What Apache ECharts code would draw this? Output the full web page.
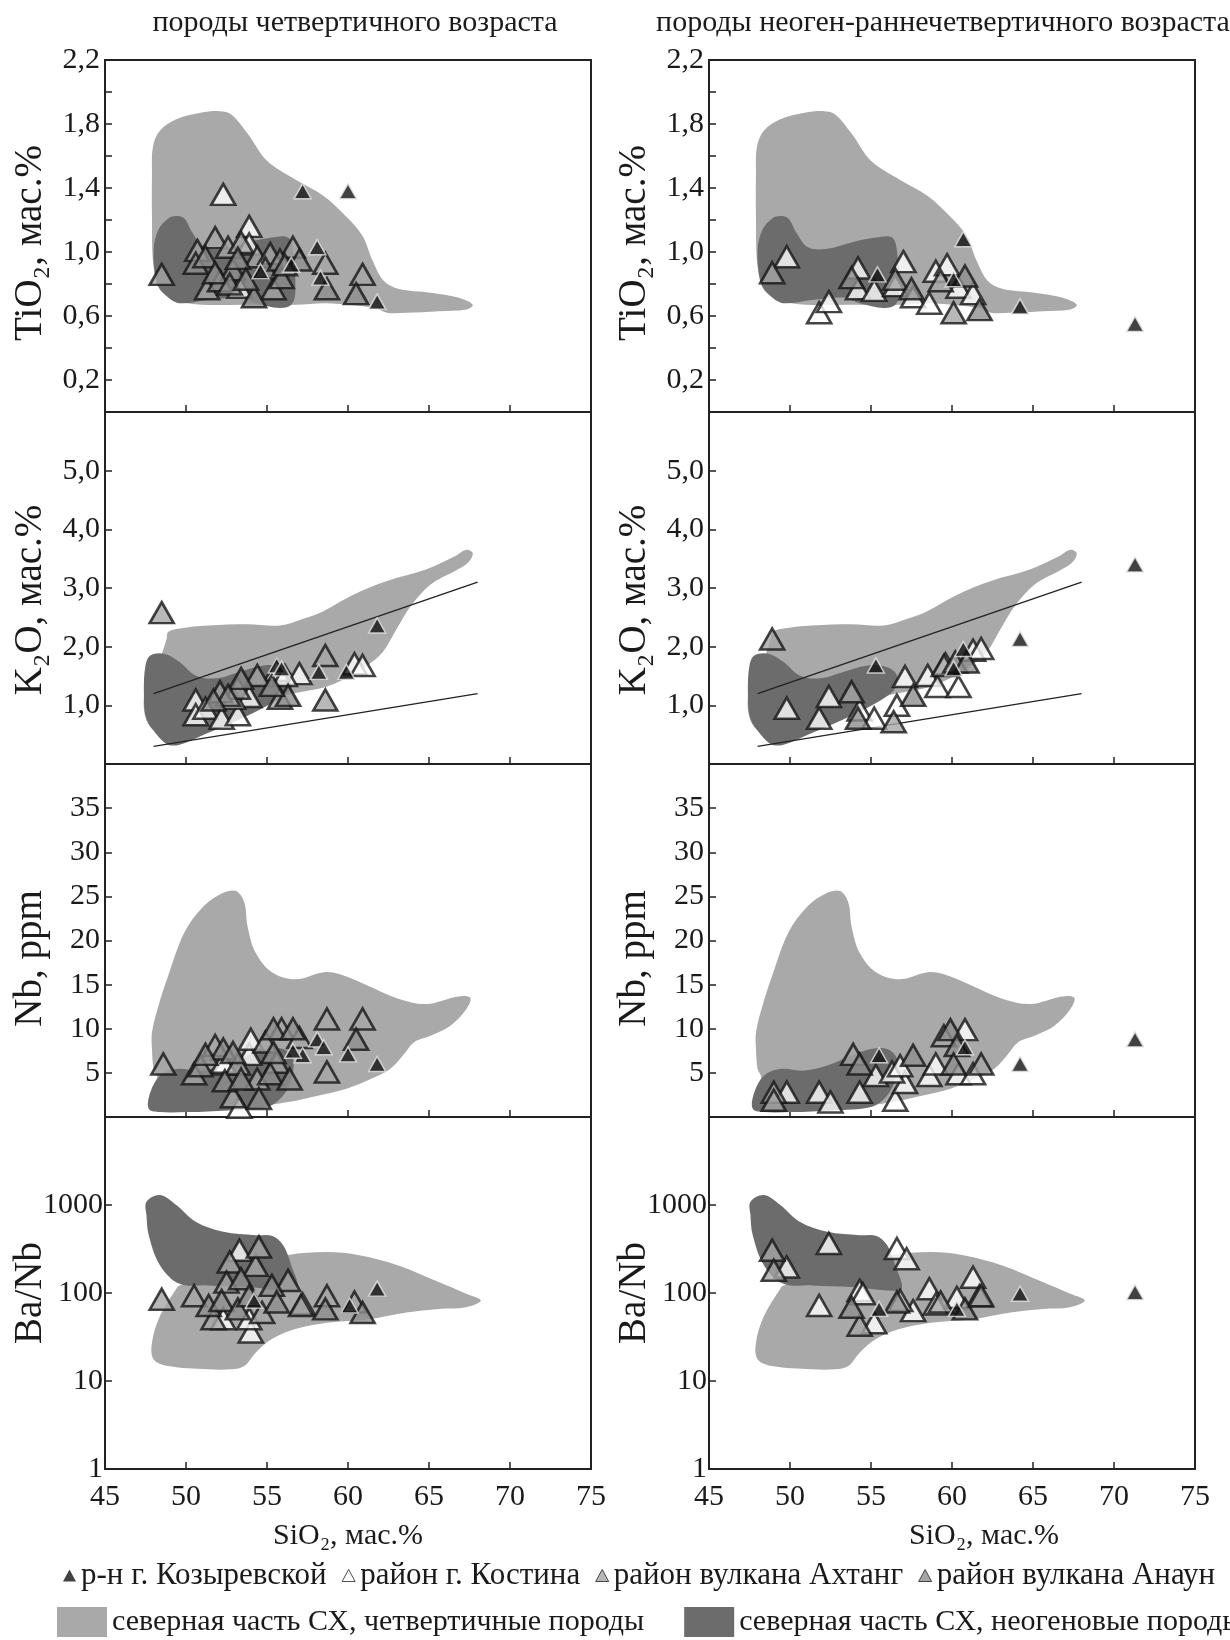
<!DOCTYPE html>
<html>
<head>
<meta charset="utf-8">
<script src="https://cdn.jsdelivr.net/npm/echarts@6/dist/echarts.min.js"></script>
<style>
  html, body { margin: 0; background: #fff; }
  #chart { width: 1230px; height: 1640px; }
</style>
</head>
<body>
<div id="chart"></div>
<script>
// --- данные: SiO2 (x) против TiO2, K2O, Nb, Ba/Nb ---
// q = породы четвертичного возраста, n = неоген-раннечетвертичные
// koz = р-н г. Козыревской, kos = район г. Костина, akh = Ахтанг, ana = Анаун

const tiKozQ = [[57.2, 1.38], [60.0, 1.38], [58.1, 1.03], [58.3, 0.84], [61.8, 0.69], [54.6, 0.88], [56.5, 0.92]]
const tiKosQ = [[52.3, 1.36], [53.9, 1.16], [53.9, 1.05], [53.3, 0.78]]
const tiAkhQ = [[48.5, 0.86], [50.7, 1.01], [51.8, 1.09], [52.6, 1.03], [53.4, 1.06], [54.4, 0.97], [55.2, 0.99], [56.6, 1.03], [58.6, 0.93], [60.9, 0.86], [51.3, 0.77], [55.4, 0.77]]
const tiAnaQ = [[50.6, 0.93], [51.2, 0.97], [52.1, 0.82], [52.9, 0.89], [54.2, 0.72], [54.9, 0.9], [55.8, 0.95], [55.9, 0.84], [57.0, 0.95], [58.7, 0.77], [60.5, 0.74], [51.8, 0.87], [53.2, 0.96], [52.7, 0.8], [56.1, 0.92], [53.7, 0.83]]

const tiKozN = [[60.7, 1.08], [64.2, 0.66], [71.3, 0.55], [55.4, 0.86], [60.1, 0.83]]
const tiKosN = [[49.8, 0.97], [51.8, 0.62], [52.4, 0.69], [54.2, 0.9], [54.2, 0.77], [55.2, 0.76], [57.0, 0.94], [56.5, 0.79], [57.6, 0.72], [58.6, 0.68], [59.0, 0.88], [60.4, 0.78], [61.3, 0.74], [59.7, 0.92]]
const tiAkhN = [[48.9, 0.87], [56.5, 0.83], [59.3, 0.82], [60.1, 0.62]]
const tiAnaN = [[57.5, 0.77], [60.8, 0.85], [61.7, 0.64], [53.8, 0.84]]

const kKozQ = [[61.8, 2.36], [58.2, 1.57], [59.9, 1.57], [55.6, 1.68], [55.9, 1.63]]
const kKosQ = [[50.6, 1.09], [50.6, 0.84], [51.2, 0.95], [52.2, 0.78], [53.2, 0.84], [53.9, 1.15], [57.0, 1.54], [60.4, 1.71], [60.9, 1.68], [55.6, 1.6], [56.1, 1.51], [52.9, 1.12]]
const kAkhQ = [[48.5, 2.58], [58.6, 1.09], [58.6, 1.85], [55.8, 1.12], [54.4, 1.51], [53.2, 1.29], [52.1, 1.23]]
const kAnaQ = [[56.3, 1.17], [53.4, 1.46], [55.3, 1.34], [52.6, 1.17], [51.7, 1.09]]

const kKozN = [[55.3, 1.68], [64.2, 2.13], [71.3, 3.4], [60.7, 1.96], [60.1, 1.63]]
const kKosN = [[49.8, 0.95], [51.8, 0.78], [52.4, 1.15], [54.3, 0.92], [55.2, 0.78], [56.6, 1.0], [57.1, 1.49], [58.5, 1.51], [59.1, 1.32], [60.4, 1.32], [61.3, 1.94], [61.8, 1.97], [59.6, 1.71]]
const kAkhN = [[48.9, 2.13], [53.8, 1.23], [56.4, 0.72], [59.5, 1.68]]
const kAnaN = [[57.6, 1.17], [60.2, 1.74], [60.9, 1.74], [54.2, 0.78]]

const nbKozQ = [[58.1, 8.8], [58.5, 7.9], [60.0, 7.1], [61.8, 6.0], [57.2, 7.0], [56.6, 7.5]]
const nbKosQ = [[52.4, 6.0], [53.9, 7.1], [54.0, 8.8], [53.3, 1.1], [52.3, 6.2]]
const nbAkhQ = [[48.6, 6.0], [50.5, 4.9], [51.8, 8.1], [53.2, 6.0], [52.9, 2.3], [54.4, 4.3], [55.6, 6.2], [55.9, 10], [57.0, 9.0], [58.7, 11.1], [60.9, 11.1], [58.7, 5.1], [54.9, 8.5]]
const nbAnaQ = [[50.9, 5.8], [52.3, 7.7], [52.9, 7.3], [52.4, 4.1], [53.4, 4.3], [54.5, 2.1], [55.2, 4.9], [55.4, 10], [56.6, 10], [56.4, 4.3], [60.5, 8.8], [55.4, 7.3], [51.2, 7.1]]

const nbKozN = [[55.5, 7.0], [60.8, 7.9], [64.2, 6.0], [71.3, 8.8]]
const nbKosN = [[49.8, 2.8], [51.8, 2.8], [52.5, 1.7], [54.3, 2.8], [55.3, 4.7], [56.5, 1.9], [57.1, 3.9], [58.6, 4.7], [59.0, 6.0], [60.4, 4.9], [61.3, 4.9], [60.8, 9.9], [56.3, 5.1], [56.8, 5.8]]
const nbAkhN = [[49.0, 2.8], [49.0, 1.9], [53.9, 7.1], [59.5, 9.2], [61.8, 6.0]]
const nbAnaN = [[54.3, 6.0], [57.6, 7.0], [59.9, 9.9], [60.3, 8.1], [60.1, 6.0]]

const baKozQ = [[61.8, 112], [60.1, 72], [54.2, 82]]
const baKosQ = [[53.3, 306], [52.3, 51], [54.0, 36], [53.9, 51], [57.2, 75]]
const baAkhQ = [[48.5, 85], [50.5, 93], [52.7, 225], [54.3, 206], [54.5, 334], [56.3, 139], [58.7, 93], [60.4, 79], [51.7, 51], [54.7, 60], [52.5, 133]]
const baAnaQ = [[51.4, 72], [52.2, 82], [53.4, 145], [55.3, 122], [57.1, 72], [58.6, 66], [60.9, 60], [53.2, 66], [55.6, 79], [53.9, 93]]

const baKozN = [[64.2, 98], [71.3, 102], [55.5, 66], [60.3, 66]]
const baKosN = [[49.8, 197], [52.4, 365], [51.8, 72], [54.3, 107], [54.5, 98], [55.2, 46], [56.6, 320], [57.2, 245], [57.6, 63], [58.6, 112], [59.0, 75], [60.3, 89], [61.3, 151], [61.7, 93], [56.8, 82]]
const baAkhN = [[48.9, 306], [49.0, 181], [54.3, 43], [59.3, 79]]
const baAnaN = [[53.8, 69], [56.6, 79], [60.8, 66], [61.8, 93]]

// поля составов (контуры)
const tiLight = [[47.9, 1.49], [47.96, 1.66], [48.4, 1.76], [49.4, 1.83], [50.9, 1.87], [52.1, 1.88], [52.8, 1.86], [53.8, 1.74], [55.0, 1.57], [56.8, 1.45], [58.5, 1.35], [59.9, 1.22], [60.9, 1.10], [61.5, 0.95], [62.2, 0.82], [63.1, 0.77], [65.1, 0.745], [66.8, 0.715], [67.7, 0.67], [67.3, 0.64], [65.6, 0.63], [63.6, 0.62], [62.4, 0.62], [61.7, 0.65], [58.7, 0.68], [56.8, 0.67], [53.8, 0.67], [50.1, 0.68], [48.5, 0.75], [48.0, 0.91], [47.9, 1.22]]
const tiDark = [[49.4, 1.225], [48.9, 1.21], [48.3, 1.14], [48.0, 1.01], [48.2, 0.81], [48.8, 0.725], [49.6, 0.68], [51.35, 0.70], [53.3, 0.715], [54.3, 0.68], [55.8, 0.65], [56.5, 0.67], [56.75, 0.745], [56.6, 1.01], [56.3, 1.09], [55.3, 1.09], [53.8, 1.06], [52.3, 1.02], [51.1, 1.03], [50.4, 1.12], [49.9, 1.21]]
const kLight = [[48.9, 2.25], [49.6, 2.31], [51.35, 2.36], [53.8, 2.38], [55.8, 2.36], [57.2, 2.47], [58.5, 2.61], [60.2, 2.87], [62.4, 3.12], [64.85, 3.32], [66.6, 3.54], [67.3, 3.65], [67.7, 3.59], [67.4, 3.43], [66.6, 3.29], [65.1, 3.06], [63.9, 2.70], [63.0, 2.30], [62.15, 1.91], [61.2, 1.68], [60.2, 1.51], [58.7, 1.32], [57.2, 1.23], [55.8, 1.15], [53.8, 0.95], [51.35, 0.72], [49.4, 0.55], [48.2, 0.55], [47.55, 0.75], [47.4, 1.12], [47.8, 1.46], [48.4, 1.8], [48.8, 2.13]]
const kDark = [[47.8, 1.85], [48.65, 1.88], [49.6, 1.74], [50.6, 1.51], [51.85, 1.46], [53.3, 1.57], [54.8, 1.68], [56.0, 1.65], [56.6, 1.51], [56.5, 1.29], [55.8, 1.12], [54.3, 0.89], [52.8, 0.70], [51.1, 0.50], [49.6, 0.33], [48.9, 0.33], [48.2, 0.50], [47.55, 0.78], [47.4, 1.23], [47.5, 1.68]]
const nbLight = [[47.9, 7.7], [47.9, 9.6], [48.3, 12.6], [48.9, 16.0], [49.9, 20.9], [51.1, 23.9], [52.3, 25.4], [53.1, 25.6], [53.6, 24.3], [53.8, 21.6], [54.3, 18.6], [55.3, 16.4], [56.75, 15.6], [58.5, 16.4], [59.45, 16.2], [61.2, 14.9], [63.1, 13.4], [64.85, 12.8], [66.8, 13.65], [67.55, 13.5], [67.3, 12.2], [66.3, 10.3], [65.1, 9.2], [64.1, 8.5], [63.4, 7.0], [62.6, 5.45], [61.4, 4.3], [59.9, 3.2], [58.2, 2.44], [56.3, 1.69], [53.8, 1.12], [50.1, 0.94], [49.4, 1.12], [48.4, 2.8], [48.2, 4.7], [48.0, 5.45]]
const nbDark = [[47.7, 0.94], [47.8, 2.8], [48.4, 4.7], [49.4, 5.45], [50.9, 5.26], [52.3, 5.83], [53.8, 6.96], [55.0, 7.7], [56.0, 7.7], [56.6, 6.6], [56.5, 4.3], [56.0, 2.44], [55.0, 1.12], [52.6, 0.75], [50.1, 0.56], [48.4, 0.56]]
const baLight = [[49.6, 122], [51.5, 150], [53.8, 200], [56.3, 270], [58.7, 293], [60.7, 269], [63.1, 206], [65.6, 133], [67.3, 98], [68.2, 82], [67.3, 69], [65.6, 66], [63.6, 60], [61.2, 50], [58.7, 46], [56.75, 39], [55.3, 30], [54.3, 21], [53.6, 14.8], [52.8, 13.6], [51.35, 13.6], [48.9, 14.8], [48.0, 17.7], [47.9, 27.4], [48.4, 55], [49.4, 112]]
const baDark = [[47.56, 1092], [48.4, 1300], [49.4, 1000], [50.6, 645], [52.3, 495], [54.3, 454], [55.3, 447], [56.0, 349], [56.5, 206], [56.9, 112], [56.0, 107], [53.8, 117], [51.35, 122], [49.6, 127], [48.4, 206], [47.7, 454], [47.56, 770]]

// линии на диаграмме K2O-SiO2
const kLineHigh = [[48, 1.2], [68, 3.1]]
const kLineLow = [[48, 0.3], [68, 1.2]]

const titles = ['породы четвертичного возраста', 'породы неоген-раннечетвертичного возраста']
const names = {
  koz: 'р-н г. Козыревской',
  kos: 'район г. Костина',
  akh: 'район вулкана Ахтанг',
  ana: 'район вулкана Анаун',
  light: 'северная часть СХ, четвертичные породы',
  dark: 'северная часть СХ, неогеновые породы'
}

const FONT = 'Liberation Serif'
const INK = '#1a1a1a'
const FS = 30
const LIGHT = '#a9a9a9'
const DARK = '#6c6c6c'

const colLeft = [105, 709]
const colW = 486
const rowTop = [60, 412, 764, 1117]
const rowH = [352, 352, 353, 352]

const comma = (v, d) => v.toFixed(d).replace('.', ',')

const panels = [
  {
    name: 'TiO₂, мас.%', type: 'value', min: 0, max: 2.2, interval: 0.2, shift: 14, margin: 5,
    fmt: v => (Math.round(v * 10) % 4 === 2 ? comma(v, 1) : ''),
    light: tiLight, dark: tiDark,
    pts: [[tiKozQ, tiKosQ, tiAkhQ, tiAnaQ], [tiKozN, tiKosN, tiAkhN, tiAnaN]]
  },
  {
    name: 'K₂O, мас.%', type: 'value', min: 0, max: 6, interval: 1, shift: 24, margin: 5,
    fmt: v => (v > 0 && v < 6 ? comma(v, 1) : ''),
    light: kLight, dark: kDark, lines: [kLineHigh, kLineLow],
    pts: [[kKozQ, kKosQ, kAkhQ, kAnaQ], [kKozN, kKosN, kAkhN, kAnaN]]
  },
  {
    name: 'Nb, ppm', type: 'value', min: 0, max: 40, interval: 5, shift: 36, margin: 5,
    fmt: v => (v > 0 && v < 40 ? String(v) : ''),
    light: nbLight, dark: nbDark,
    pts: [[nbKozQ, nbKosQ, nbAkhQ, nbAnaQ], [nbKozN, nbKosN, nbAkhN, nbAnaN]]
  },
  {
    name: 'Ba/Nb', type: 'log', min: 1, max: 10000, shift: 0, margin: 2,
    fmt: v => (v < 10000 ? String(Math.round(v)) : ''),
    light: baLight, dark: baDark,
    pts: [[baKozQ, baKosQ, baAkhQ, baAnaQ], [baKozN, baKosN, baAkhN, baAnaN]]
  }
]

const markStyles = [
  { key: 'koz', size: [17, 15], z: 6, item: { color: '#111', borderColor: '#e6e6e6', borderWidth: 1.5 } },
  { key: 'kos', size: [24, 21], z: 5, item: { color: '#fff', borderColor: '#151515', borderWidth: 2.6 } },
  { key: 'akh', size: [24, 21], z: 5, item: { color: '#a6a6a6', borderColor: '#151515', borderWidth: 2.6 } },
  { key: 'ana', size: [24, 21], z: 5, item: { color: '#8e8e8e', borderColor: '#151515', borderWidth: 2.6 } }
]

function field (name, poly, gi, color, z) {
  return {
    type: 'custom',
    name,
    coordinateSystem: 'cartesian2d',
    xAxisIndex: gi,
    yAxisIndex: gi,
    data: poly,
    z,
    silent: true,
    itemStyle: { color },
    renderItem: (params, api) => {
      if (params.dataIndex !== 0) return null
      return {
        type: 'polygon',
        shape: { points: poly.map(p => api.coord(p)), smooth: 0.35 },
        style: { fill: color }
      }
    }
  }
}

const grid = []
const xAxis = []
const yAxis = []
const series = []

panels.forEach((p, r) => {
  for (let c = 0; c < 2; c++) {
    const gi = grid.length
    const bottomRow = r === panels.length - 1
    grid.push({
      left: colLeft[c], top: rowTop[r], width: colW, height: rowH[r],
      show: true, borderColor: '#222', borderWidth: 2, backgroundColor: 'transparent'
    })
    xAxis.push({
      gridIndex: gi, type: 'value', min: 45, max: 75, interval: 5,
      axisLine: { show: false },
      axisTick: { show: true, inside: true, length: 7, lineStyle: { color: '#222', width: 1.5 } },
      splitLine: { show: false },
      axisLabel: { show: bottomRow, margin: 13, fontFamily: FONT, fontSize: FS, color: INK },
      name: bottomRow ? 'SiO₂, мас.%' : '',
      nameLocation: 'middle',
      nameGap: 52,
      nameMoveOverlap: false,
      nameTextStyle: { fontFamily: FONT, fontSize: FS, color: INK, padding: c === 1 ? [0, 0, 0, 64] : [0, 0, 0, 0] }
    })
    const ya = {
      gridIndex: gi, type: p.type, min: p.min, max: p.max,
      axisLine: { show: false },
      axisTick: { show: true, inside: true, length: 7, lineStyle: { color: '#222', width: 1.5 } },
      splitLine: { show: false },
      axisLabel: { margin: p.margin, fontFamily: FONT, fontSize: FS, color: INK, formatter: p.fmt },
      name: p.name,
      nameLocation: 'middle',
      nameGap: 55,
      nameMoveOverlap: false,
      nameTextStyle: { fontFamily: FONT, fontSize: 39, color: INK, padding: [0, p.shift, 0, 0] }
    }
    if (p.interval) ya.interval = p.interval
    if (p.type === 'log') ya.logBase = 10
    yAxis.push(ya)

    series.push(field(names.light, p.light, gi, LIGHT, 1))
    series.push(field(names.dark, p.dark, gi, DARK, 2))
    if (p.lines) {
      p.lines.forEach(l => series.push({
        type: 'line', xAxisIndex: gi, yAxisIndex: gi, data: l, symbol: 'none', silent: true,
        lineStyle: { color: '#222', width: 1.3 }, z: 3
      }))
    }
    markStyles.forEach((m, k) => {
      series.push({
        type: 'scatter', name: names[m.key], xAxisIndex: gi, yAxisIndex: gi,
        data: p.pts[c][k], symbol: 'triangle', symbolSize: m.size,
        itemStyle: m.item, z: m.z, silent: true
      })
    })
  }
})

const option = {
  animation: false,
  backgroundColor: '#fff',
  title: [
    { text: titles[0], left: 350, top: 3, textAlign: 'center', textStyle: { fontFamily: FONT, fontSize: FS, fontWeight: 'normal', color: INK } },
    { text: titles[1], left: 938, top: 3, textAlign: 'center', textStyle: { fontFamily: FONT, fontSize: FS, fontWeight: 'normal', color: INK } }
  ],
  legend: [
    {
      left: 58, top: 1555, width: 1500, orient: 'horizontal', itemWidth: 13, itemHeight: 12, itemGap: 15,
      selectedMode: false, textStyle: { fontFamily: FONT, fontSize: 31, color: INK },
      data: [
        { name: names.koz, icon: 'triangle', itemStyle: { color: '#111', borderWidth: 0 } },
        { name: names.kos, icon: 'triangle', itemStyle: { color: '#fff', borderColor: '#222', borderWidth: 1 } },
        { name: names.akh, icon: 'triangle', itemStyle: { color: '#a6a6a6', borderColor: '#222', borderWidth: 1 } },
        { name: names.ana, icon: 'triangle', itemStyle: { color: '#8e8e8e', borderColor: '#222', borderWidth: 1 } }
      ]
    },
    {
      left: 52, top: 1602, width: 1500, orient: 'horizontal', itemWidth: 50, itemHeight: 30, itemGap: 40,
      selectedMode: false, textStyle: { fontFamily: FONT, fontSize: FS, color: INK },
      data: [
        { name: names.light, icon: 'rect', itemStyle: { color: LIGHT, borderWidth: 0 } },
        { name: names.dark, icon: 'rect', itemStyle: { color: DARK, borderWidth: 0 } }
      ]
    }
  ],
  grid,
  xAxis,
  yAxis,
  series
}

const myChart = echarts.init(document.getElementById('chart'))
myChart.setOption(option)
</script>
</body>
</html>
